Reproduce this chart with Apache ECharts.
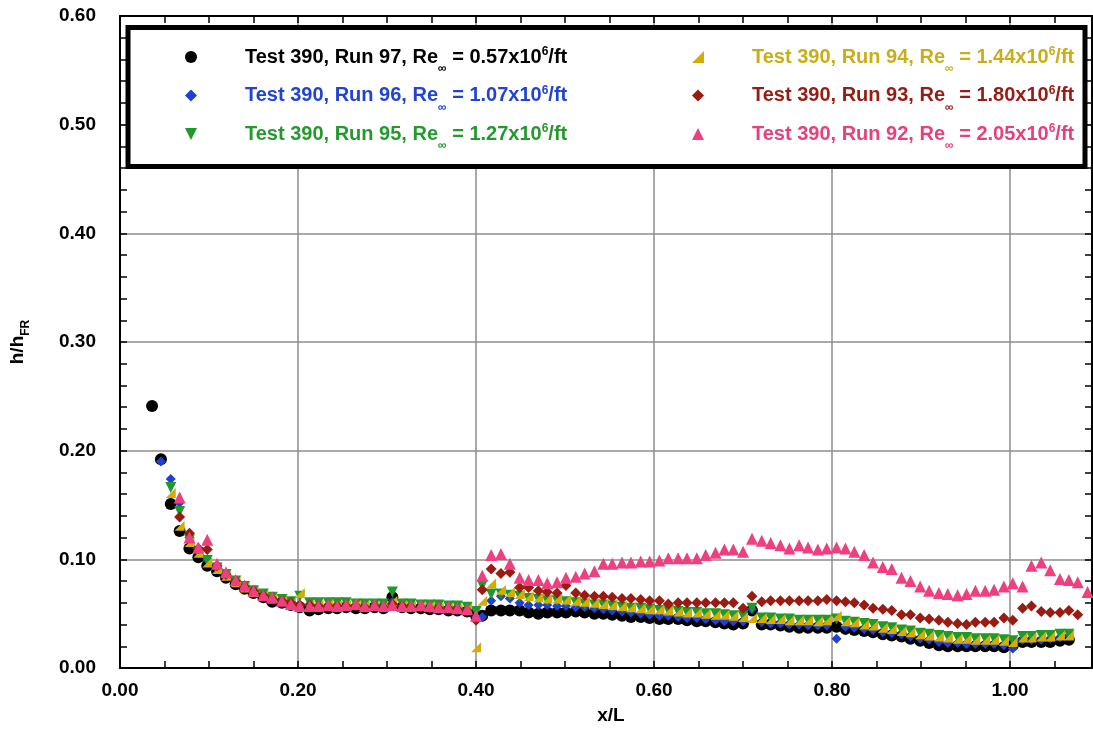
<!DOCTYPE html>
<html>
<head>
<meta charset="utf-8">
<title>h/hFR vs x/L</title>
<script src="https://cdn.jsdelivr.net/npm/echarts@6/dist/echarts.min.js"></script>
<style>
html, body { margin: 0; padding: 0; background: #fff; }
#chart { width: 1093px; height: 730px; }
</style>
</head>
<body>
<div id="chart"></div>
<script>
// gauge stations (x/L): forward part up to 0.40, then aft part
const xStations = [
  0.036, 0.046, 0.057, 0.067, 0.078, 0.088, 0.098, 0.109, 0.119, 0.130,
  0.140, 0.150, 0.161, 0.171, 0.182, 0.192, 0.202, 0.213, 0.223, 0.234,
  0.244, 0.254, 0.265, 0.275, 0.286, 0.296, 0.306, 0.317, 0.327, 0.338,
  0.348, 0.358, 0.369, 0.379, 0.390, 0.400,
  0.407, 0.417, 0.428, 0.438, 0.449, 0.459, 0.470, 0.480, 0.491, 0.501,
  0.512, 0.522, 0.533, 0.543, 0.553, 0.564, 0.574, 0.585, 0.595, 0.606,
  0.616, 0.627, 0.637, 0.648, 0.658, 0.669, 0.679, 0.689, 0.700, 0.710,
  0.721, 0.731, 0.742, 0.752, 0.763, 0.773, 0.784, 0.794, 0.805, 0.815,
  0.825, 0.836, 0.846, 0.857, 0.867, 0.878, 0.888, 0.899, 0.909, 0.920,
  0.930, 0.941, 0.951, 0.961, 0.972, 0.982, 0.993, 1.003, 1.014, 1.024,
  1.035, 1.045, 1.056, 1.066, 1.076, 1.087
]

const run97 = [
  0.241, 0.192, 0.151, 0.126, 0.110, 0.102, 0.094, 0.089, 0.083, 0.077,
  0.073, 0.069, 0.065, 0.061, 0.060, 0.058, 0.056, 0.053, 0.054, 0.055,
  0.055, 0.056, 0.055, 0.055, 0.056, 0.055, 0.065, 0.056, 0.055, 0.055,
  0.054, 0.054, 0.053, 0.053, 0.052, 0.048,
  0.048, 0.053, 0.053, 0.053, 0.053, 0.051, 0.050, 0.051, 0.051, 0.051,
  0.052, 0.051, 0.050, 0.050, 0.049, 0.048, 0.047, 0.047, 0.046, 0.045,
  0.045, 0.045, 0.044, 0.043, 0.043, 0.042, 0.041, 0.040, 0.041, 0.053,
  0.040, 0.040, 0.039, 0.038, 0.037, 0.037, 0.037, 0.037, 0.038, 0.036,
  0.035, 0.034, 0.033, 0.031, 0.030, 0.029, 0.027, 0.025, 0.023, 0.021,
  0.020, 0.020, 0.020, 0.020, 0.020, 0.020, 0.019, 0.021, 0.024, 0.024,
  0.024, 0.024, 0.025, 0.026, null, null
]
const run96 = [
  null, 0.190, 0.174, 0.152, 0.120, 0.108, 0.100, 0.092, 0.085, 0.079,
  0.074, 0.070, 0.066, 0.063, 0.061, 0.059, 0.057, 0.058, 0.057, 0.057,
  0.058, 0.057, 0.057, 0.058, 0.057, 0.057, 0.061, 0.057, 0.057, 0.056,
  0.056, 0.056, 0.055, 0.055, 0.054, 0.047,
  0.047, 0.062, 0.066, 0.064, 0.060, 0.058, 0.058, 0.058, 0.057, 0.057,
  0.056, 0.056, 0.055, 0.054, 0.053, 0.052, 0.051, 0.050, 0.049, 0.048,
  0.048, 0.047, 0.046, 0.046, 0.045, 0.044, 0.043, 0.043, 0.043, 0.054,
  0.042, 0.041, 0.041, 0.040, 0.040, 0.039, 0.039, 0.039, 0.027, 0.038,
  0.037, 0.036, 0.035, 0.033, 0.032, 0.031, 0.029, 0.027, 0.026, 0.024,
  0.023, 0.023, 0.022, 0.022, 0.022, 0.022, 0.021, 0.018, 0.026, 0.026,
  0.026, 0.027, 0.028, 0.030, null, null
]
const run95 = [
  null, null, 0.166, 0.144, 0.118, 0.106, 0.099, 0.092, 0.086, 0.080,
  0.075, 0.071, 0.068, 0.065, 0.063, 0.061, 0.066, 0.060, 0.060, 0.060,
  0.060, 0.060, 0.059, 0.059, 0.059, 0.059, 0.070, 0.059, 0.059, 0.058,
  0.058, 0.058, 0.057, 0.057, 0.056, 0.052,
  0.076, 0.068, 0.068, 0.067, 0.066, 0.064, 0.063, 0.062, 0.062, 0.061,
  0.060, 0.059, 0.058, 0.058, 0.057, 0.056, 0.055, 0.055, 0.054, 0.053,
  0.053, 0.052, 0.051, 0.051, 0.050, 0.050, 0.049, 0.048, 0.048, 0.055,
  0.046, 0.046, 0.045, 0.045, 0.044, 0.044, 0.044, 0.044, 0.045, 0.043,
  0.042, 0.041, 0.040, 0.038, 0.037, 0.035, 0.034, 0.032, 0.031, 0.030,
  0.029, 0.028, 0.028, 0.027, 0.027, 0.027, 0.026, 0.025, 0.029, 0.029,
  0.030, 0.030, 0.031, 0.031, null, null
]
const run94 = [
  null, null, 0.161, 0.131, 0.116, 0.106, 0.097, 0.091, 0.085, 0.079,
  0.074, 0.070, 0.067, 0.064, 0.062, 0.060, 0.069, 0.058, 0.058, 0.059,
  0.058, 0.058, 0.058, 0.058, 0.057, 0.057, 0.062, 0.058, 0.057, 0.057,
  0.057, 0.056, 0.056, 0.055, 0.055, 0.019,
  0.062, 0.078, 0.072, 0.070, 0.068, 0.066, 0.065, 0.064, 0.064, 0.063,
  0.062, 0.061, 0.060, 0.059, 0.058, 0.057, 0.056, 0.055, 0.054, 0.054,
  0.053, 0.052, 0.051, 0.051, 0.050, 0.049, 0.049, 0.048, 0.047, 0.046,
  0.046, 0.045, 0.045, 0.044, 0.044, 0.044, 0.043, 0.044, 0.048, 0.043,
  0.042, 0.040, 0.039, 0.037, 0.036, 0.034, 0.033, 0.031, 0.030, 0.029,
  0.028, 0.027, 0.027, 0.026, 0.026, 0.026, 0.025, 0.024, 0.028, 0.028,
  0.029, 0.029, 0.030, 0.030, null, null
]
const run93 = [
  null, null, null, 0.139, 0.124, 0.110, 0.109, 0.094, 0.086, 0.080,
  0.075, 0.071, 0.067, 0.064, 0.062, 0.060, 0.058, 0.058, 0.057, 0.057,
  0.057, 0.057, 0.057, 0.056, 0.057, 0.056, 0.059, 0.057, 0.056, 0.056,
  0.055, 0.055, 0.055, 0.054, 0.053, 0.044,
  0.072, 0.091, 0.087, 0.088, 0.074, 0.074, 0.071, 0.070, 0.069, 0.076,
  0.069, 0.067, 0.066, 0.066, 0.065, 0.064, 0.064, 0.063, 0.062, 0.062,
  0.059, 0.060, 0.060, 0.060, 0.060, 0.060, 0.060, 0.060, 0.055, 0.066,
  0.061, 0.062, 0.062, 0.062, 0.062, 0.062, 0.062, 0.063, 0.062, 0.061,
  0.060, 0.058, 0.055, 0.054, 0.053, 0.049, 0.049, 0.046, 0.045, 0.044,
  0.042, 0.041, 0.040, 0.042, 0.042, 0.042, 0.046, 0.044, 0.055, 0.057,
  0.052, 0.051, 0.051, 0.053, 0.049, null
]
const run92 = [
  null, null, null, 0.157, 0.120, 0.111, 0.118, 0.096, 0.088, 0.081,
  0.076, 0.071, 0.067, 0.065, 0.062, 0.059, 0.057, 0.057, 0.057, 0.058,
  0.057, 0.058, 0.059, 0.057, 0.058, 0.057, 0.058, 0.057, 0.057, 0.058,
  0.057, 0.056, 0.056, 0.055, 0.054, 0.048,
  0.085, 0.104, 0.105, 0.096, 0.083, 0.081, 0.081, 0.078, 0.079, 0.083,
  0.084, 0.087, 0.089, 0.096, 0.096, 0.097, 0.097, 0.098, 0.098, 0.099,
  0.101, 0.101, 0.101, 0.101, 0.104, 0.106, 0.109, 0.109, 0.107, 0.119,
  0.117, 0.115, 0.113, 0.110, 0.113, 0.111, 0.109, 0.110, 0.111, 0.110,
  0.107, 0.104, 0.097, 0.093, 0.091, 0.083, 0.080, 0.075, 0.071, 0.069,
  0.068, 0.067, 0.068, 0.071, 0.071, 0.072, 0.075, 0.078, 0.075, 0.094,
  0.097, 0.090, 0.082, 0.081, 0.079, 0.070
]

const runNames = ['Test 390, Run 97', 'Test 390, Run 96', 'Test 390, Run 95',
                  'Test 390, Run 94', 'Test 390, Run 93', 'Test 390, Run 92']
const reValues = ['0.57', '1.07', '1.27', '1.44', '1.80', '2.05']
const runData = [run97, run96, run95, run94, run93, run92]

const FONT = '"Liberation Sans", Arial, Helvetica, sans-serif'
const colors = ['#000000', '#1f3fd6', '#1e9a2a', '#d2ad08', '#9a1b12', '#ee3f80']
const textColors = ['#000000', '#2144d4', '#249a2e', '#c9ae18', '#961c14', '#e8407e']
const symbols = ['circle', 'diamond', 'path://M0,0 L10,0 L5,10 Z',
                 'path://M10,0 L10,10 L0,10 Z', 'diamond', 'triangle']
const sizes = [12, 10, 11, 10, 11, 12]

const chart = echarts.init(document.getElementById('chart'))

const series = runNames.map((name, i) => ({
  name: name,
  type: 'scatter',
  symbol: symbols[i],
  symbolSize: sizes[i],
  itemStyle: { color: colors[i], opacity: 1 },
  data: xStations.map((x, k) => [x, runData[i][k]]).filter(p => p[1] != null),
  silent: true
}))

function legendLabel(name) {
  const i = runNames.indexOf(name)
  return '{g| }{t|' + name + ', Re}{s|\u221e}{t| = ' + reValues[i] + 'x10}{p|6}{t|/ft}'
}

// sub/superscripts shifted with padding inside a middle-aligned line
const legendRich = {
  g: { width: 43 },
  t: { fontFamily: FONT, fontWeight: 'bold', fontSize: 20, lineHeight: 36 },
  s: { fontFamily: FONT, fontWeight: 'bold', fontSize: 12, lineHeight: 12, padding: [24, 0, 0, 0] },
  p: { fontFamily: FONT, fontWeight: 'bold', fontSize: 12, lineHeight: 12, padding: [0, 0, 10, 0] }
}

function makeLegend(idx, left) {
  return {
    orient: 'vertical',
    left: left,
    top: 39,
    padding: 0,
    itemGap: 2.5,
    itemWidth: 12,
    itemHeight: 12,
    z: 20,
    selectedMode: false,
    formatter: legendLabel,
    textStyle: { fontFamily: FONT, fontWeight: 'bold', fontSize: 20, rich: legendRich },
    data: idx.map(i => ({ name: runNames[i], textStyle: { color: textColors[i] } }))
  }
}

const tickFmt = v => (Math.abs(v * 10 - Math.round(v * 10)) < 1e-6 ? v.toFixed(2) : '')

const xBase = {
  type: 'value', min: 0, max: 1.092, interval: 0.2,
  axisLine: { show: true, onZero: false, lineStyle: { color: '#000', width: 2 } },
  axisTick: { show: true, inside: true, length: 7, lineStyle: { color: '#000', width: 1.5 } },
  minorTick: { show: true, splitNumber: 4, length: 7, lineStyle: { color: '#000', width: 1.5 } }
}
const yBase = {
  type: 'value', min: 0, max: 0.6, interval: 0.1,
  axisLine: { show: true, onZero: false, lineStyle: { color: '#000', width: 2 } },
  axisTick: { show: true, inside: true, length: 7, lineStyle: { color: '#000', width: 1.5 } },
  minorTick: { show: true, splitNumber: 5, length: 7, lineStyle: { color: '#000', width: 1.5 } }
}

const option = {
  animation: false,
  backgroundColor: '#fff',
  grid: { left: 120, right: 1, top: 16, bottom: 62 },
  graphic: [{
    type: 'rect', z: 10,
    shape: { x: 128, y: 27.5, width: 957, height: 139 },
    style: { fill: '#fff', stroke: '#000', lineWidth: 5 }
  }],
  legend: [makeLegend([0, 1, 2], 185), makeLegend([3, 4, 5], 692)],
  xAxis: [
    Object.assign({}, xBase, {
      position: 'bottom',
      name: 'x/L', nameLocation: 'middle', nameGap: 38,
      nameTextStyle: { fontFamily: FONT, fontWeight: 'bold', fontSize: 19, color: '#000', padding: [0, 0, 0, 10] },
      axisLabel: { margin: 13, fontFamily: FONT, fontWeight: 'bold', fontSize: 19, color: '#000',
                   formatter: tickFmt, showMaxLabel: false },
      splitLine: { show: true, lineStyle: { color: '#8c8c8c', width: 1.5 } }
    }),
    Object.assign({}, xBase, {
      position: 'top',
      axisLabel: { show: false },
      splitLine: { show: false }
    })
  ],
  yAxis: [
    Object.assign({}, yBase, {
      position: 'left',
      name: '{a|h/h}{b|FR}', nameLocation: 'middle', nameGap: 88, nameRotate: 90,
      nameTextStyle: {
        color: '#000',
        rich: {
          a: { fontFamily: FONT, fontWeight: 'bold', fontSize: 19, lineHeight: 28 },
          b: { fontFamily: FONT, fontWeight: 'bold', fontSize: 12, lineHeight: 12, verticalAlign: 'bottom' }
        }
      },
      axisLabel: { margin: 24, fontFamily: FONT, fontWeight: 'bold', fontSize: 19, color: '#000',
                   formatter: v => v.toFixed(2) },
      splitLine: { show: true, lineStyle: { color: '#8c8c8c', width: 1.5 } }
    }),
    Object.assign({}, yBase, {
      position: 'right',
      axisLabel: { show: false },
      splitLine: { show: false }
    })
  ],
  series: series
}

chart.setOption(option)
</script>
</body>
</html>
